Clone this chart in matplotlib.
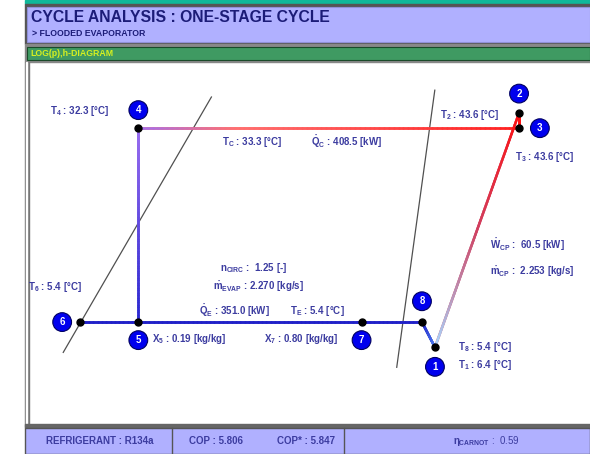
import numpy as np
import matplotlib.pyplot as plt
from matplotlib.collections import LineCollection
from matplotlib.colors import LinearSegmentedColormap
from matplotlib.patches import Rectangle

plt.rcParams['font.family'] = ['Liberation Sans', 'DejaVu Sans']
plt.rcParams['mathtext.fontset'] = 'custom'
plt.rcParams['mathtext.rm'] = 'Liberation Sans:bold'
plt.rcParams['mathtext.bf'] = 'Liberation Sans:bold'
plt.rcParams['mathtext.it'] = 'Liberation Sans:bold'

# state points of the cycle: enthalpy [kJ/kg] and pressure [bar]
states = ['1', '2', '3', '4', '5', '6', '7', '8']
h = {'1': 439.0, '2': 494.0, '3': 494.0, '4': 245.0, '5': 245.0,
     '6': 207.0, '7': 391.0, '8': 430.5}
p = {'1': 3.18, '2': 9.04, '3': 8.45, '4': 8.45, '5': 3.56,
     '6': 3.56, '7': 3.56, '8': 3.56}

# saturation lines (liquid / vapour)
sat_liq_h = [195.9, 292.8]
sat_liq_p = [3.11, 9.71]
sat_vap_h = [414.0, 438.9]
sat_vap_p = [2.91, 10.01]

values = {
    'T4': 32.3, 'TC': 33.3, 'QC': 408.5, 'T2': 43.6, 'T3': 43.6,
    'WCP': 60.5, 'mCP': 2.253, 'nCIRC': 1.25, 'mEVAP': 2.270,
    'QE': 351.0, 'TE': 5.4, 'T6': 5.4, 'X5': 0.19, 'X7': 0.80,
    'T8': 5.4, 'T1': 6.4,
}
refrigerant = 'R134a'
cop = 5.806
cop_star = 5.847
eta_carnot = 0.59

W, H = 590, 454
fig = plt.figure(figsize=(W / 100, H / 100), dpi=100)
bg = fig.add_axes([0, 0, 1, 1])
bg.set_xlim(0, W)
bg.set_ylim(H, 0)
bg.axis('off')

lav = '#b0b0ff'
navy = '#1c1c78'
txt = '#3c3ca0'

# frame / panels
bg.add_patch(Rectangle((25, 0), W - 25, 4, color='#10b89a'))
bg.add_patch(Rectangle((25, 4), W - 25, 40, color='#555555'))
bg.add_patch(Rectangle((27, 7), W - 27, 35, color=lav, ec='#9090d8', lw=0.8))
bg.add_patch(Rectangle((25, 44), W - 25, 18, color='#888888'))
bg.add_patch(Rectangle((27, 47), W - 27, 13, color='#3f9a62', ec='#1a4a2a', lw=0.8))
bg.add_patch(Rectangle((25, 62), 4, 365, color='#777777'))
bg.add_patch(Rectangle((26, 62), 1, 365, color='white'))
bg.add_patch(Rectangle((25, 424), W - 25, 4, color='#666666'))
bg.add_patch(Rectangle((25, 428), W - 25, 26, color=lav, ec='#555555', lw=1))
for xd in [172, 344]:
    bg.plot([xd, xd], [428, 454], color='#555555', lw=1)

bg.text(31, 18, 'CYCLE ANALYSIS : ONE-STAGE CYCLE', fontsize=11.3, fontweight='bold',
        color=navy, va='center')
bg.text(32, 34, '> FLOODED EVAPORATOR', fontsize=6.3, fontweight='bold',
        color=navy, va='center')
bg.text(30, 54, 'LOG(p),h-DIAGRAM', fontsize=6.3, fontweight='bold',
        color='#d6f020', va='center')

bg.text(100, 441, f'REFRIGERANT : {refrigerant}', fontsize=7, fontweight='bold',
        color=txt, ha='center', va='center')
bg.text(216, 441, f'COP : {cop:.3f}', fontsize=7, fontweight='bold',
        color=txt, ha='center', va='center')
bg.text(306, 441, f'COP* : {cop_star:.3f}', fontsize=7, fontweight='bold',
        color=txt, ha='center', va='center')
bg.text(453, 441, r'$\eta_{CARNOT}$ :  ' + f'{eta_carnot:.2f}', fontsize=7,
        color=txt, ha='left', va='center')

# diagram axes over the white area
ax = fig.add_axes([29 / W, 1 - 424 / H, (W - 29) / W, (424 - 62) / H])
ax.set_yscale('log')
ax.set_xlim(173.5, 540.4)
ax.set_ylim(2.26, 11.35)
ax.axis('off')

ax.plot(sat_liq_h, sat_liq_p, color='#505050', lw=0.9)
ax.plot(sat_vap_h, sat_vap_p, color='#505050', lw=0.9)


def grad_line(a, b, colors, lw=1.8):
    cmap = LinearSegmentedColormap.from_list('g', colors)
    # solid base line underneath so the colour segments show no seams
    ax.plot([h[a], h[b]], [p[a], p[b]], color=cmap(0.5), lw=lw, zorder=2,
            solid_capstyle='round')
    t = np.linspace(0, 1, 80)
    hs = h[a] + (h[b] - h[a]) * t
    ps = np.exp(np.log(p[a]) + (np.log(p[b]) - np.log(p[a])) * t)
    pts = np.column_stack([hs, ps]).reshape(-1, 1, 2)
    segs = np.concatenate([pts[:-1], pts[1:]], axis=1)
    lc = LineCollection(segs, colors=cmap(t[:-1]), linewidths=lw, zorder=3,
                        capstyle='round', joinstyle='round')
    ax.add_collection(lc)


grad_line('4', '3', [(0, '#a070f0'), (0.25, '#ff7070'), (1, '#ff2020')])
grad_line('4', '5', ['#9a6cf0', '#2828d0'])
grad_line('1', '2', ['#a8d8ff', '#d04060', '#ff1010'])
grad_line('2', '3', ['#ff1010', '#ff1010'])
grad_line('6', '8', ['#2020c8', '#2020c8'])
grad_line('8', '1', ['#2020c8', '#5080f0'])

for s in states:
    ax.plot(h[s], p[s], 'o', color='black', ms=5, zorder=5)

# numbered markers: offsets in points from the state
offsets = {'1': (0, -14), '2': (0, 14), '3': (15, 0), '4': (0, 13),
           '5': (0, -13), '6': (-13, 0), '7': (0, -13), '8': (0, 15)}
for s in states:
    ax.annotate(s, (h[s], p[s]), xytext=offsets[s], textcoords='offset points',
                ha='center', va='center', fontsize=7, fontweight='bold', color='white',
                bbox=dict(boxstyle='circle,pad=0.45', fc='#0000ee', ec='#000060', lw=0.8),
                zorder=6)

fs = 7
labels = [
    (50, 111, r'$\mathrm{T_4}$ : ' + f"{values['T4']:.1f} [°C]"),
    (222, 142, r'$\mathrm{T_C}$ : ' + f"{values['TC']:.1f} [°C]"),
    (311, 142, r'$\mathrm{\dot{Q}_C}$ : ' + f"{values['QC']:.1f} [kW]"),
    (440, 115, r'$\mathrm{T_2}$ : ' + f"{values['T2']:.1f} [°C]"),
    (515, 157, r'$\mathrm{T_3}$ : ' + f"{values['T3']:.1f} [°C]"),
    (490, 245, r'$\mathrm{\dot{W}_{CP}}$ :  ' + f"{values['WCP']:.1f} [kW]"),
    (490, 272, r'$\mathrm{\dot{m}_{CP}}$ :  ' + f"{values['mCP']:.3f} [kg/s]"),
    (220, 268, r'$\mathrm{n_{CIRC}}$ :  ' + f"{values['nCIRC']:.2f} [-]"),
    (213, 287, r'$\mathrm{\dot{m}_{EVAP}}$ : ' + f"{values['mEVAP']:.3f} [kg/s]"),
    (199, 311, r'$\mathrm{\dot{Q}_E}$ : ' + f"{values['QE']:.1f} [kW]"),
    (290, 311, r'$\mathrm{T_E}$ : ' + f"{values['TE']:.1f} [°C]"),
    (28, 287, r'$\mathrm{T_6}$ : ' + f"{values['T6']:.1f} [°C]"),
    (152, 339, r'$\mathrm{X_5}$ : ' + f"{values['X5']:.2f} [kg/kg]"),
    (264, 339, r'$\mathrm{X_7}$ : ' + f"{values['X7']:.2f} [kg/kg]"),
    (458, 347, r'$\mathrm{T_8}$ : ' + f"{values['T8']:.1f} [°C]"),
    (458, 365, r'$\mathrm{T_1}$ : ' + f"{values['T1']:.1f} [°C]"),
]
for x, y, s in labels:
    bg.text(x, y, s, fontsize=fs, fontweight='bold', color=txt, va='center', zorder=7)

fig.savefig('out.png', dpi=100)
